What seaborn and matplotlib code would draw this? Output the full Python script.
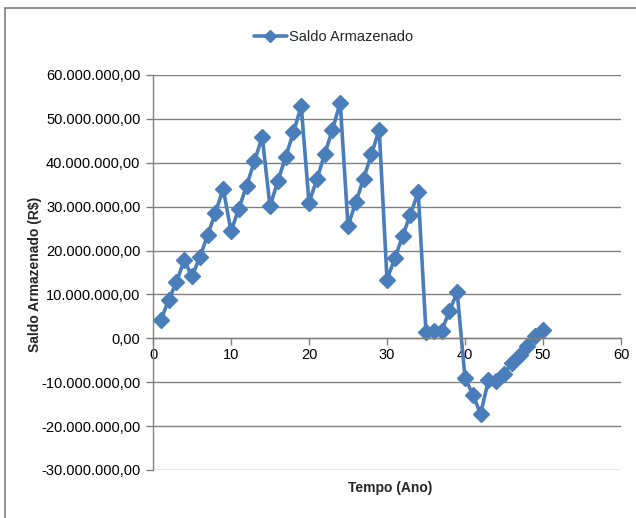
import matplotlib
matplotlib.use("Agg")
import matplotlib.pyplot as plt
from matplotlib import font_manager
from matplotlib.lines import Line2D
from matplotlib.ticker import FuncFormatter, MultipleLocator
import seaborn as sns
import pandas as pd

# Saldo armazenado por ano (R$)
anos = list(range(1, 51))
saldo = [
    4.1e6, 8.7e6, 12.8e6, 17.8e6, 14.1e6, 18.5e6, 23.5e6, 28.6e6, 34.1e6, 24.4e6,
    29.5e6, 34.8e6, 40.3e6, 45.9e6, 30.1e6, 35.8e6, 41.3e6, 46.9e6, 52.9e6, 30.9e6,
    36.2e6, 41.9e6, 47.5e6, 53.7e6, 25.6e6, 31.0e6, 36.4e6, 41.9e6, 47.5e6, 13.4e6,
    18.2e6, 23.3e6, 28.2e6, 33.3e6, 1.4e6, 1.7e6, 1.7e6, 6.2e6, 10.5e6, -9.0e6,
    -12.8e6, -17.2e6, -9.6e6, -9.7e6, -8.2e6, -5.6e6, -3.9e6, -1.8e6, 0.5e6, 1.8e6,
]
serie = "Saldo Armazenado"
x_titulo = "Tempo (Ano)"
y_titulo = "Saldo Armazenado (R$)"

df = pd.DataFrame({"ano": anos, "saldo": saldo})

sns.set_style("white")
available = {f.name for f in font_manager.fontManager.ttflist}
family = next((f for f in ("Liberation Sans Narrow", "Liberation Sans", "Arimo")
               if f in available), "DejaVu Sans")
plt.rcParams["font.family"] = [family, "DejaVu Sans"]

azul = "#4A7EBB"
cinza = "#808080"

fig = plt.figure(figsize=(6.36, 5.18), dpi=100)
ax = fig.add_axes([153 / 636, 1 - 470 / 518, (621 - 153) / 636, (470 - 75) / 518])

sns.lineplot(data=df, x="ano", y="saldo", ax=ax, color=azul, linewidth=2.6,
             marker="D", markersize=8, markeredgecolor=azul, markeredgewidth=1,
             label=serie, legend=False)

ax.set_xlim(0, 60)
ax.set_ylim(-30e6, 60e6)
ax.xaxis.set_major_locator(MultipleLocator(10))
ax.yaxis.set_major_locator(MultipleLocator(10e6))


def br(v, pos=None):
    s = f"{v:,.2f}"
    return s.replace(",", "X").replace(".", ",").replace("X", ".")


ax.yaxis.set_major_formatter(FuncFormatter(br))

ax.grid(axis="y", color=cinza, linewidth=1)
ax.grid(axis="x", visible=False)
for side in ("top", "right"):
    ax.spines[side].set_visible(False)
ax.spines["left"].set_color(cinza)
ax.spines["left"].set_linewidth(1)
ax.spines["bottom"].set_position(("data", 0))
ax.spines["bottom"].set_color(cinza)
ax.spines["bottom"].set_linewidth(1)
ax.tick_params(axis="both", which="major", direction="out", length=5, width=1,
               color=cinza, labelsize=10.5, labelcolor="black", pad=3)
ax.tick_params(axis="x", bottom=True, pad=2)
ax.tick_params(axis="y", left=True, pad=4)

ax.set_xlabel("")
ax.set_ylabel("")
fig.text(390 / 636, 1 - 488 / 518, x_titulo, ha="center", va="center",
         fontsize=10, fontweight="bold")
fig.text(35 / 636, 1 - 274 / 518, y_titulo, ha="center", va="center",
         rotation=90, rotation_mode="anchor", fontsize=10, fontweight="bold")

handle = Line2D([], [], color=azul, linewidth=2.6, marker="D", markersize=6,
                markeredgecolor=azul)
fig.legend([handle], [serie], loc="center", bbox_to_anchor=(334 / 636, 1 - 37 / 518),
           frameon=False, fontsize=10.5, handlelength=2.2, handletextpad=0.2,
           borderaxespad=0)

# moldura do gráfico
fig.add_artist(Line2D([5 / 636, 5 / 636], [0, 1 - 8 / 518], color=cinza,
                      linewidth=1.2, transform=fig.transFigure))
fig.add_artist(Line2D([5 / 636, 1], [1 - 8 / 518, 1 - 8 / 518], color=cinza,
                      linewidth=1.2, transform=fig.transFigure))

fig.savefig("out.png", dpi=100)
